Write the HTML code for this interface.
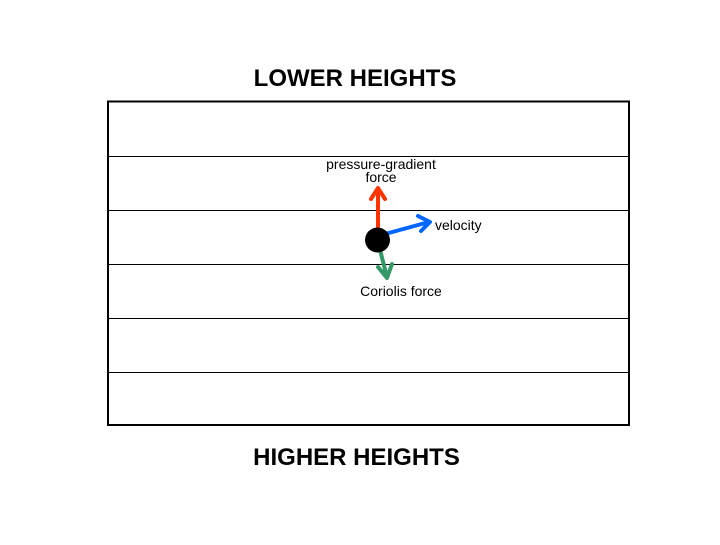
<!DOCTYPE html><html><head><style>body{margin:0;background:#fff}</style></head><body>
<svg width="720" height="540" xmlns="http://www.w3.org/2000/svg" font-family="Liberation Sans, sans-serif">
<rect width="720" height="540" fill="#fff"/>
<text x="355" y="86" font-size="24" font-weight="bold" text-anchor="middle">LOWER HEIGHTS</text>
<text x="356.5" y="465" font-size="24" font-weight="bold" text-anchor="middle">HIGHER HEIGHTS</text>
<rect x="108" y="101.5" width="521" height="323.5" fill="none" stroke="#000" stroke-width="2"/>
<g stroke="#000" stroke-width="1">
<line x1="108" y1="156.5" x2="629" y2="156.5"/><line x1="108" y1="210.5" x2="629" y2="210.5"/>
<line x1="108" y1="264.5" x2="629" y2="264.5"/><line x1="108" y1="318.5" x2="629" y2="318.5"/>
<line x1="108" y1="372.5" x2="629" y2="372.5"/></g>
<g fill="none" stroke-width="4" stroke-linecap="round" stroke-linejoin="round">
<path d="M378 232 L378 189 M371 199 L378 188 L385 199" stroke="#ff3300"/>
<path d="M385 234 L429 222 M418 216 L430 222 L421 231" stroke="#0066ff"/>
<path d="M380 250 L387 277 M378 267 L387 278 L392 264" stroke="#339966"/>
</g>
<circle cx="377.5" cy="240" r="12.5" fill="#000"/>
<g font-size="14" text-anchor="middle">
<text x="381" y="169">pressure-gradient</text><text x="381" y="182">force</text>
<text x="401" y="296">Coriolis force</text></g>
<text x="435" y="230" font-size="14">velocity</text>
</svg></body></html>
